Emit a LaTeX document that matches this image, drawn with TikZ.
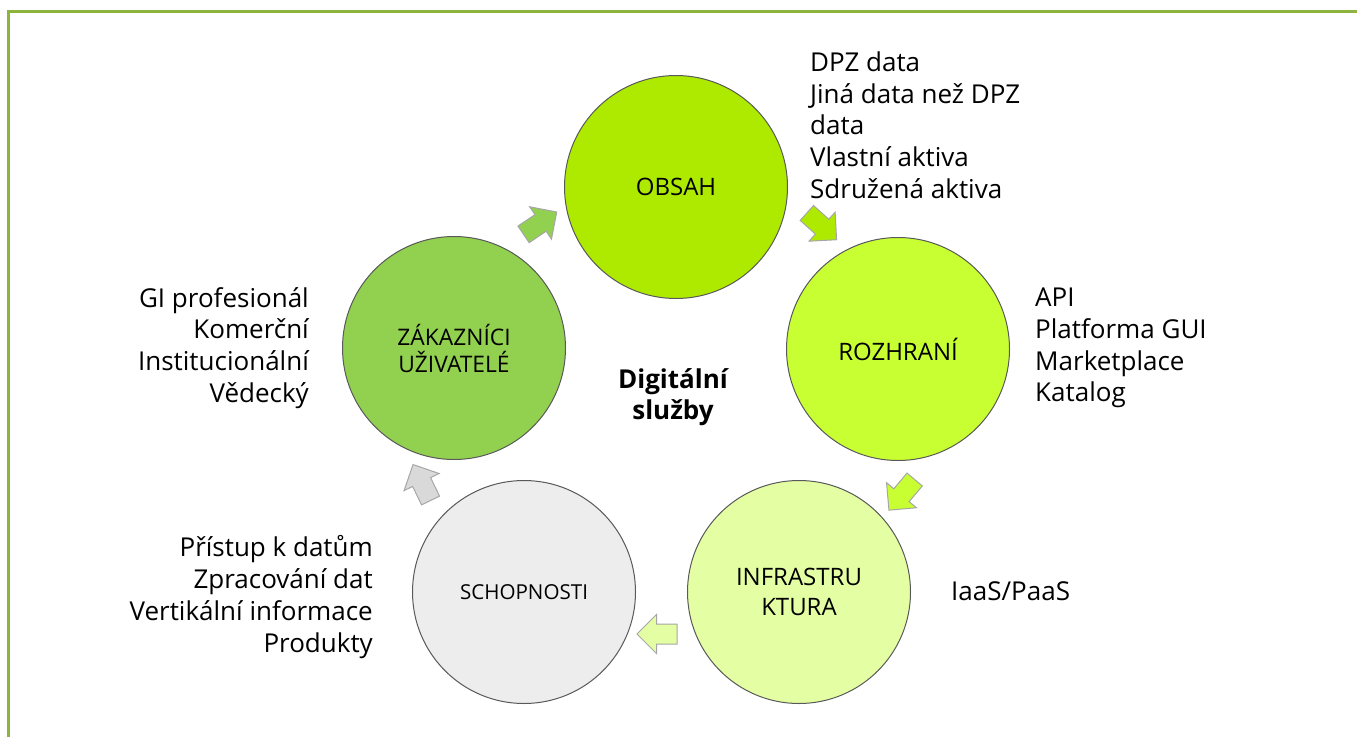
\documentclass[tikz,border=0pt]{standalone}
\usepackage{fontspec}
\setmainfont{Open Sans}
\usepackage{xcolor}
\usepackage{tikz}
\usetikzlibrary{shapes,arrows,positioning,calc}

\definecolor{ramecc}{RGB}{141,180,62}
\definecolor{obsahc}{HTML}{AEEA00}
\definecolor{rozhc}{HTML}{C8FF33}
\definecolor{infrac}{HTML}{E4FFA3}
\definecolor{schopc}{HTML}{EDEDED}
\definecolor{zakc}{HTML}{92D050}
\definecolor{sipkac}{HTML}{D9D9D9}

\begin{document}
\begin{tikzpicture}[x=1pt,y=-1pt,
    kruh/.style={circle,draw=black!65,line width=1pt,minimum size=223pt,inner sep=0pt,align=center,font=\fontsize{24}{30}\selectfont},
    sipka/.style={single arrow,draw=black!35,line width=1pt,minimum height=40pt,inner xsep=0pt,inner ysep=9.5pt,single arrow head extend=9.5pt},
    popis/.style={inner sep=0pt,font=\fontsize{26}{31.7}\selectfont}]
    \useasboundingbox (0,0) rectangle (1357,737);
    \draw[ramecc,line width=2.5pt] (8.5,737) -- (8.5,11.5) -- (1357,11.5);

    \node[kruh,fill=obsahc] (obsah) at (676,187) {OBSAH};
    \node[kruh,fill=rozhc] (rozhrani) at (898,349) {ROZHRANÍ};
    \node[kruh,fill=infrac] (infra) at (799,592) {INFRASTRU\\KTURA};
    \node[kruh,fill=schopc,font=\fontsize{20.6}{24}\selectfont] (schop) at (524,592) {SCHOPNOSTI};
    \node[kruh,fill=zakc,font=\fontsize{22.8}{27}\selectfont] (zak) at (454,348) {ZÁKAZNÍCI\\UŽIVATELÉ};

    \node[sipka,fill=zakc,rotate=34] (s1) at (536,226) {};
    \node[sipka,fill=obsahc,rotate=-42] (s2) at (818,223) {};
    \node[sipka,fill=rozhc,rotate=-130] (s3) at (905,491) {};
    \node[sipka,fill=infrac,rotate=180] (s4) at (662,634) {};
    \node[sipka,fill=sipkac,rotate=116] (s5) at (424,487) {};

    \node[align=center,inner sep=0pt,font=\bfseries\fontsize{26}{31}\selectfont] (nazev) at (673,397) {Digitální\\služby};

    \node[popis,align=left,anchor=west] (obsahtxt) at (810,125) {DPZ data\\Jiná data než DPZ\\data\\Vlastní aktiva\\Sdružená aktiva};
    \node[popis,align=left,anchor=west] (rozhtxt) at (1035,348) {API\\Platforma GUI\\Marketplace\\Katalog};
    \node[popis,align=left,anchor=west] (infratxt) at (951,591) {IaaS/PaaS};
    \node[popis,align=right,anchor=east] (schoptxt) at (373,597) {Přístup k datům\\Zpracování dat\\Vertikální informace\\Produkty};
    \node[popis,align=right,anchor=east] (zaktxt) at (309,348) {GI profesionál\\Komerční\\Institucionální\\Vědecký};
\end{tikzpicture}
\end{document}
